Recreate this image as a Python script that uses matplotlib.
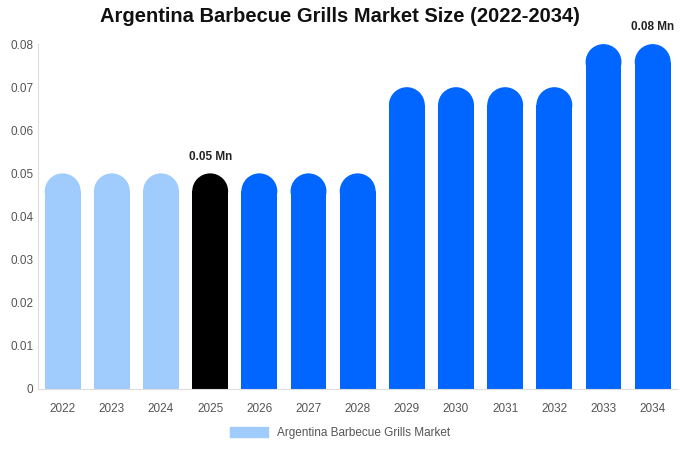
import matplotlib
matplotlib.use("Agg")
import matplotlib.pyplot as plt
from matplotlib.patches import Ellipse, Patch

years = [str(y) for y in range(2022, 2035)]
values = [0.05]*7 + [0.07]*4 + [0.08]*2
colors = ['#a0cbfd']*3 + ['#000000'] + ['#0066ff']*9
labels = {3: '0.05 Mn', 12: '0.08 Mn'}
yticks = [0, 0.01, 0.02, 0.03, 0.04, 0.05, 0.06, 0.07, 0.08]
ytick_labels = ['0'] + [f'{t:.2f}' for t in yticks[1:]]

plt.rcParams['font.family'] = ['Liberation Sans', 'DejaVu Sans']
fig = plt.figure(figsize=(6.8, 4.5), dpi=100)
ax = fig.add_axes([0.056, 0.136, 0.94, 0.766])
ax.set_xlim(-0.5, 12.5)
ax.set_ylim(0, 0.08)

w = 0.73
# radius in data units: half bar width in pixels converted to y units
px_per_x = 0.94*680/13
px_per_y = 0.766*450/0.08
r_px = w*px_per_x/2
r = r_px/px_per_y
for i, (v, c) in enumerate(zip(values, colors)):
    ax.bar(i, v - r, width=w, color=c)
    ax.add_patch(Ellipse((i, v - r), w, 2*r, color=c, lw=0))
    if i in labels:
        ax.text(i, v + 0.0025, labels[i], ha='center', va='bottom',
                fontsize=8.5, fontweight='bold', color='#222222', clip_on=False)

ax.set_xticks(range(len(years)))
ax.set_xticklabels(years)
ax.set_yticks(yticks)
ax.set_yticklabels(ytick_labels)
ax.tick_params(axis='both', length=0, labelsize=8.5, colors='#555555')
ax.tick_params(axis='x', pad=10)
for s in ['top', 'right']:
    ax.spines[s].set_visible(False)
for s in ['left', 'bottom']:
    ax.spines[s].set_color('#dddddd')

fig.suptitle('Argentina Barbecue Grills Market Size (2022-2034)', x=0.5, y=0.985,
             fontsize=14.5, fontweight='bold', color='#111111')
fig.legend(handles=[Patch(color='#a0cbfd', label='Argentina Barbecue Grills Market')],
           loc='center', bbox_to_anchor=(0.5, 0.038), frameon=False, fontsize=8.5,
           handlelength=3.2, handleheight=1.0, labelcolor='#555555')
fig.savefig('out.png', dpi=100)
